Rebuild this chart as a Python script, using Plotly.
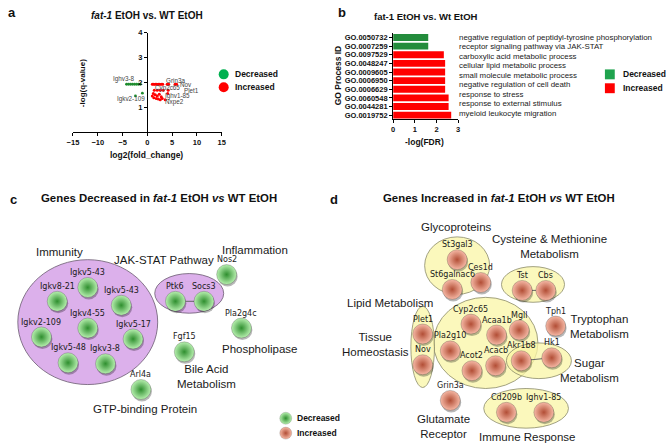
import plotly.graph_objects as go

W, H = 669, 445

# ---------------- Panel a: volcano data ----------------
dec_log2fc = [-4.2, -3.8, -3.4, -3.0, -2.6, -2.2, -1.8, -1.4, -2.4, -1.0]
dec_logq = [1.92, 1.92, 1.92, 1.92, 1.92, 1.92, 1.92, 1.92, 1.45, 1.56]
inc_log2fc = [1.0, 1.3, 1.6, 1.9, 2.2, 2.5, 2.8, 3.1, 4.0, 4.3, 5.6, 5.9,
              1.4, 2.0, 2.6, 3.2, 4.2,
              1.2, 1.6, 2.0, 2.4, 2.8, 1.3, 1.8, 2.2, 2.6, 3.0, 3.6, 4.1, 1.0]
inc_logq = [1.92, 1.92, 1.92, 1.92, 1.92, 1.92, 1.92, 1.92, 1.92, 1.92, 1.92, 1.92,
            1.68, 1.68, 1.68, 1.68, 1.68,
            1.55, 1.50, 1.45, 1.52, 1.42, 1.38, 1.35, 1.33, 1.30, 1.35, 1.30, 1.55, 1.45]
volcano_labels = ["Ighv3-8", "Igkv2-109", "Grin3a", "Nov", "Cyp2c65", "Plet1", "Ighv1-85", "Nxpe2"]
volcano_label_x = [-4.8, -3.2, 5.6, 7.7, 4.0, 8.9, 6.0, 5.4]
volcano_label_y = [2.12, 1.32, 2.08, 1.92, 1.76, 1.68, 1.44, 1.20]

# ---------------- Panel b: GO data ----------------
go_ids = ["GO.0050732", "GO.0007259", "GO.0097529", "GO.0048247", "GO.0009605",
          "GO.0006950", "GO.0006629", "GO.0060548", "GO.0044281", "GO.0019752"]
go_fdr = [1.62, 1.62, 2.34, 2.40, 2.40, 2.40, 2.40, 2.56, 2.56, 2.68]
go_dir = ["Decreased", "Decreased", "Increased", "Increased", "Increased",
          "Increased", "Increased", "Increased", "Increased", "Increased"]
# process descriptions, listed beside the bars
go_desc = ["negative regulation of peptidyl-tyrosine phosphorylation",
           "receptor signaling pathway via JAK-STAT",
           "carboxylic acid metabolic process",
           "cellular lipid metabolic process",
           "small molecule metabolic process",
           "negative regulation of cell death",
           "response to stress",
           "response to external stimulus",
           "myeloid leukocyte migration"]

# ---------------- Panel c / d: networks ----------------
c_genes = ["Igkv5-43", "Igkv8-21", "Igkv5-43", "Igkv4-55", "Igkv2-109", "Igkv5-17",
           "Igkv5-48", "Igkv3-8", "Ptk6", "Socs3", "Nos2", "Pla2g4c", "Fgf15", "Arl4a"]
c_groups = ["Immunity", "JAK-STAT Pathway", "Inflammation", "Phospholipase",
            "Bile Acid<br>Metabolism", "GTP-binding Protein"]
d_genes = ["St3gal3", "Ces1d", "St6galnac6", "Tst", "Cbs", "Plet1", "Nov", "Cyp2c65",
           "Acaa1b", "Mgll", "Pla2g10", "Acot2", "Acacb", "Akr1b8", "Hk1", "Tph1",
           "Grin3a", "Cd209b", "Ighv1-85"]
d_groups = ["Glycoproteins", "Cysteine & Methionine<br>Metabolism", "Lipid Metabolism",
            "Tissue<br>Homeostasis", "Tryptophan<br>Metabolism", "Sugar<br>Metabolism",
            "Glutamate<br>Receptor", "Immune Response"]
c_edges = [("Ptk6", "Socs3")]
d_edges = [("Tst", "Cbs"), ("Akr1b8", "Hk1")]

# ---- layout (pixel positions of the diagram) ----
c_pos = [(83, 286), (52, 300), (117, 304), (83, 327), (36, 336), (129, 338),
         (63, 362), (101, 363), (172, 300), (201, 300), (224, 273), (239, 327),
         (181, 351), (137, 389)]
c_group_pos = [(54, 250), (160, 258), (253, 248), (257, 348), (204, 376), (141, 409)]
c_ellipses = [(83, 321, 71, 63), (186, 292, 35, 20)]
d_pos = [(458, 258), (482, 281), (453, 288), (524, 289), (548, 289), (423, 333),
         (423, 364), (472, 323), (498, 334), (521, 329), (451, 350), (473, 370),
         (497, 365), (523, 360), (554, 357), (558, 325), (451, 400), (508, 412),
         (546, 412)]
d_group_pos = [(457, 225), (552, 245), (390, 302), (375, 344), (602, 325),
               (592, 370), (444, 426), (529, 437)]
d_ellipses = [(458, 264, 33, 29), (535, 283, 32, 18), (487, 342, 53, 46),
              (423, 346, 12, 41), (541, 360, 33, 18), (528, 408, 43, 20)]

FONT = "Liberation Sans, Arial, sans-serif"
NODEFONT = "DejaVu Sans, Verdana, sans-serif"
GREEN_PT = "#1E8C2E"
RED = "#FF0000"

fig = go.Figure()

# ---- volcano traces ----
fig.add_trace(go.Scatter(x=dec_log2fc, y=dec_logq, mode="markers",
                         marker=dict(color=GREEN_PT, size=2.8), xaxis="x", yaxis="y",
                         showlegend=False, hoverinfo="skip"))
fig.add_trace(go.Scatter(x=inc_log2fc, y=inc_logq, mode="markers",
                         marker=dict(color=RED, size=3.0), xaxis="x", yaxis="y",
                         showlegend=False, hoverinfo="skip"))

# ---- GO bar trace ----
bar_colors = ["#238C3C" if d == "Decreased" else RED for d in go_dir]
fig.add_trace(go.Bar(x=go_fdr, y=go_ids, orientation="h", marker=dict(color=bar_colors, line=dict(width=0)),
                     xaxis="x2", yaxis="y2", showlegend=False, hoverinfo="skip", width=0.8))

# ---- canvas for the networks (pixel units) ----
def px(x):
    return x / W

def py(y):
    return 1 - y / H

shapes = []
annotations = []

def canvas_text(text, x, y, size, bold=False, color="#111", font=FONT, xanchor="center"):
    if bold:
        text = "<b>" + text + "</b>"
    annotations.append(dict(text=text, x=x, y=y, xref="x3", yref="y3", showarrow=False,
                            xanchor=xanchor, yanchor="middle",
                            font=dict(size=size, color=color, family=font)))

for (cx, cy, rx, ry) in c_ellipses:
    shapes.append(dict(type="circle", xref="x3", yref="y3", x0=cx - rx, x1=cx + rx,
                       y0=cy - ry, y1=cy + ry, fillcolor="rgba(218,172,234,0.95)",
                       line=dict(color="#6a5a70", width=0.8), layer="below"))
for (cx, cy, rx, ry) in d_ellipses:
    shapes.append(dict(type="circle", xref="x3", yref="y3", x0=cx - rx, x1=cx + rx,
                       y0=cy - ry, y1=cy + ry, fillcolor="rgba(250,246,165,0.75)",
                       line=dict(color="#8a8a6a", width=0.8), layer="below"))

def add_edges(edges, genes, pos):
    for a, b in edges:
        (x0, y0), (x1, y1) = pos[genes.index(a)], pos[genes.index(b)]
        fig.add_trace(go.Scatter(x=[x0, x1], y=[y0, y1], mode="lines",
                                 line=dict(color="#666", width=1), xaxis="x3", yaxis="y3",
                                 showlegend=False, hoverinfo="skip"))

add_edges(c_edges, c_genes, c_pos)
add_edges(d_edges, d_genes, d_pos)

def add_nodes(genes, pos, center, edge):
    xs = [p[0] for p in pos]
    ys = [p[1] for p in pos]
    fig.add_trace(go.Scatter(x=[x + 1 for x in xs], y=[y + 2 for y in ys], mode="markers",
                             marker=dict(size=20, color="rgba(0,0,0,0.28)", line=dict(width=0)),
                             xaxis="x3", yaxis="y3", showlegend=False, hoverinfo="skip"))
    fig.add_trace(go.Scatter(x=xs, y=ys, mode="markers",
                             marker=dict(size=20, color=center,
                                         gradient=dict(type="radial", color=edge),
                                         line=dict(width=0.6, color="rgba(0,0,0,0.35)")),
                             xaxis="x3", yaxis="y3", showlegend=False, hoverinfo="skip"))
    for g, (x, y) in zip(genes, pos):
        canvas_text(g, x, y - 15, 8, font=NODEFONT, color="#1a1a1a")

add_nodes(c_genes, c_pos, "#B8F0B0", "#2F8F2F")
add_nodes(d_genes, d_pos, "#F6B9A6", "#B24E36")

for g, (x, y) in zip(c_groups, c_group_pos):
    canvas_text(g, x, y, 11.5, color="#1a1a1a")
for g, (x, y) in zip(d_groups, d_group_pos):
    canvas_text(g, x, y, 11.5, color="#1a1a1a")

# legend for networks
fig.add_trace(go.Scatter(x=[284, 284], y=[418, 433], mode="markers",
                         marker=dict(size=12, color=["#B8F0B0", "#F6B9A6"],
                                     gradient=dict(type="radial", color=["#2F8F2F", "#B24E36"]),
                                     line=dict(width=0.5, color="rgba(0,0,0,0.3)")),
                         xaxis="x3", yaxis="y3", showlegend=False, hoverinfo="skip"))
canvas_text("Decreased", 293, 418, 8.5, bold=True, xanchor="left")
canvas_text("Increased", 293, 433, 8.5, bold=True, xanchor="left")

# legend for volcano
fig.add_trace(go.Scatter(x=[221, 221], y=[71, 84], mode="markers",
                         marker=dict(size=10, color=["#00B050", RED], line=dict(width=0)),
                         xaxis="x3", yaxis="y3", showlegend=False, hoverinfo="skip"))
canvas_text("Decreased", 230, 71, 8.5, bold=True, xanchor="left")
canvas_text("Increased", 230, 84, 8.5, bold=True, xanchor="left")

# legend for GO bars
for (yy, col, lab) in [(71, "#1FA34E", "Decreased"), (85, RED, "Increased")]:
    shapes.append(dict(type="rect", xref="x3", yref="y3", x0=608, x1=618, y0=yy - 5, y1=yy + 5,
                       fillcolor=col, line=dict(width=0)))
    canvas_text(lab, 624, yy, 8.5, bold=True, xanchor="left")

# panel letters and titles
canvas_text("a", 6, 9, 13, bold=True)
canvas_text("b", 341, 9, 13, bold=True)
canvas_text("c", 8, 197, 13, bold=True)
canvas_text("d", 333, 197, 13, bold=True)
canvas_text("<i>fat-1</i> EtOH vs. WT EtOH", 143, 12, 10, bold=True)
canvas_text("fat-1 EtOH vs. Wt EtOH", 426, 13, 9.5, bold=True)
canvas_text("Genes Decreased in <i>fat-1</i> EtOH <i>vs</i> WT EtOH", 155, 196, 11.4, bold=True)
canvas_text("Genes Increased in <i>fat-1</i> EtOH <i>vs</i> WT EtOH", 500, 196, 11.4, bold=True)

# axis titles
canvas_text("log2(fold_change)", 143, 152, 8.5, bold=True)
canvas_text("-log(FDR)", 425, 139, 8.5, bold=True)
annotations.append(dict(text="<b>-log(q-value)</b>", x=77, y=80, xref="x3", yref="y3",
                        showarrow=False, textangle=-90,
                        font=dict(size=8, family=FONT, color="#111")))
annotations.append(dict(text="<b>GO Process ID</b>", x=337, y=72, xref="x3", yref="y3",
                        showarrow=False, textangle=-90,
                        font=dict(size=8.5, family=FONT, color="#111")))

# volcano gene labels
for t, x, y in zip(volcano_labels, volcano_label_x, volcano_label_y):
    annotations.append(dict(text=t, x=x, y=y, xref="x", yref="y", showarrow=False,
                            font=dict(size=6.3, family=FONT, color="#444")))

# GO descriptions (evenly spaced column beside the bars)
desc_top, desc_bottom = 33.7, 110.0
step = (desc_bottom - desc_top) / (len(go_desc) - 1)
for i, t in enumerate(go_desc):
    annotations.append(dict(text=t, x=458, y=desc_top + i * step, xref="x3", yref="y3",
                            showarrow=False, xanchor="left", yanchor="middle",
                            font=dict(size=7.9, family=FONT, color="#222")))

axis_common = dict(showgrid=False, zeroline=False, showline=True, linecolor="#000", linewidth=1,
                   ticks="outside", ticklen=3, tickwidth=1, tickcolor="#000",
                   tickfont=dict(size=7.5, family=FONT, color="#111", weight="bold"), fixedrange=True)

fig.update_layout(
    width=W, height=H, margin=dict(l=0, r=0, t=0, b=0),
    paper_bgcolor="white", plot_bgcolor="rgba(0,0,0,0)",
    shapes=shapes, annotations=annotations, showlegend=False,
    xaxis=dict(domain=[px(68), px(219)], range=[-15, 15], tickvals=[-15, -10, -5, 0, 5, 10, 15],
               anchor="y", **axis_common),
    yaxis=dict(domain=[py(129), py(29)], range=[0, 4], tickvals=[1, 2, 3, 4],
               anchor="free", position=px(143), **axis_common),
    xaxis2=dict(domain=[px(393), px(459)], range=[0, 3], tickvals=[0, 1, 2, 3],
                anchor="y2", **axis_common),
    yaxis2=dict(domain=[py(116.5), py(29.5)], anchor="x2", type="category",
                categoryorder="array", categoryarray=go_ids, range=[9.5, -0.5],
                tickmode="array", tickvals=go_ids, ticktext=go_ids,
                **{**axis_common, "tickfont": dict(size=7.5, family=FONT, color="#111", weight="bold")}),
    xaxis3=dict(domain=[0, 1], range=[0, W], visible=False, anchor="y3", fixedrange=True),
    yaxis3=dict(domain=[0, 1], range=[H, 0], visible=False, anchor="x3", fixedrange=True),
)

fig.write_html("out.html", config={"displayModeBar": False},
               post_script="document.body.style.margin='0';document.body.style.overflow='hidden';")
